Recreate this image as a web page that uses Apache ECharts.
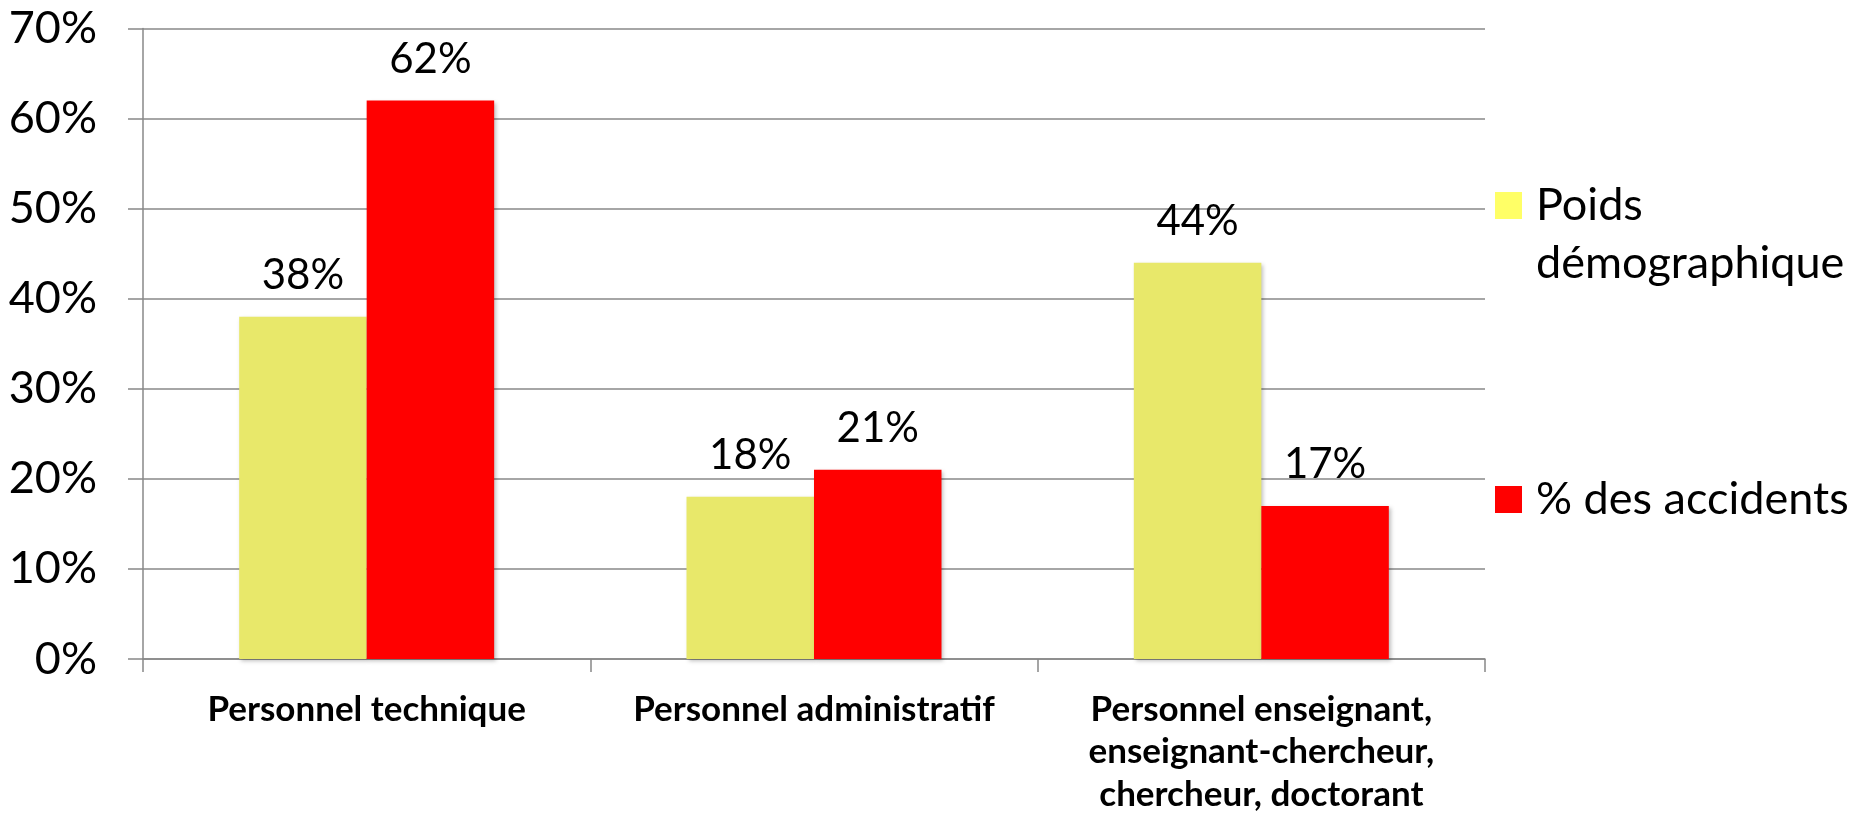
<!DOCTYPE html>
<html>
<head>
<meta charset="utf-8">
<script src="https://cdn.jsdelivr.net/npm/echarts@6/dist/echarts.min.js"></script>
<style>
  html, body { margin: 0; padding: 0; background: #fff; }
  #chart { width: 1861px; height: 817px; }
</style>
</head>
<body>
<div id="chart"></div>
<script>
const categories = [
  'Personnel technique',
  'Personnel administratif',
  'Personnel enseignant,\nenseignant-chercheur,\nchercheur, doctorant'
];
const seriesNames = ['Poids démographique', '% des accidents'];
const poidsDemographique = [38, 18, 44];
const pctAccidents = [62, 21, 17];
const yTicks = { min: 0, max: 70, interval: 10 };

const FONT = 'Lato';
const chart = echarts.init(document.getElementById('chart'));

const barShadow = {
  shadowColor: 'rgba(0,0,0,0.25)',
  shadowBlur: 4,
  shadowOffsetX: 2,
  shadowOffsetY: 2
};

const legendRich = {
  t: { fontFamily: FONT, fontSize: 45, color: '#000', lineHeight: 58, padding: [0, 0, 0, 9] }
};

const option = {
  backgroundColor: '#ffffff',
  animation: false,
  grid: { left: 143, right: 376, top: 28.5, bottom: 158, containLabel: false },
  legend: [
    {
      data: [{ name: seriesNames[0], itemStyle: { color: '#FFFF66' } }],
      left: 1495, top: 118.5,
      orient: 'vertical',
      padding: 0,
      itemWidth: 27, itemHeight: 27,
      icon: 'rect',
      formatter: function () { return '{t|\u00a0}\n{t|Poids}\n{t|démographique}'; },
      textStyle: { fontFamily: FONT, fontSize: 45, color: '#000', lineHeight: 58, rich: legendRich }
    },
    {
      data: [seriesNames[1]],
      left: 1495, top: 470.5,
      orient: 'vertical',
      padding: 0,
      itemWidth: 27, itemHeight: 27,
      icon: 'rect',
      formatter: function (name) { return '{t|' + name + '}'; },
      textStyle: { fontFamily: FONT, fontSize: 45, color: '#000', lineHeight: 58, rich: legendRich }
    }
  ],
  xAxis: {
    type: 'category',
    data: categories,
    axisLine: { show: true, lineStyle: { color: '#888', width: 1.5 } },
    axisTick: { show: true, length: 13, alignWithLabel: false, lineStyle: { color: '#888', width: 1.5 } },
    axisLabel: {
      fontFamily: FONT, fontWeight: 'bold', fontSize: 35, color: '#000',
      lineHeight: 42.5, margin: 29, interval: 0, align: 'center'
    }
  },
  yAxis: {
    type: 'value',
    min: yTicks.min, max: yTicks.max, interval: yTicks.interval,
    axisLine: { show: true, lineStyle: { color: '#888', width: 1.5 } },
    axisTick: { show: true, length: 15, lineStyle: { color: '#888', width: 1.5 } },
    splitLine: { show: true, lineStyle: { color: '#888', width: 1.5 } },
    axisLabel: {
      fontFamily: FONT, fontSize: 45, color: '#000', margin: 46,
      formatter: '{value}%'
    }
  },
  series: [
    {
      name: seriesNames[0],
      type: 'bar',
      data: poidsDemographique,
      barGap: '0%',
      barCategoryGap: '43%',
      itemStyle: Object.assign({ color: '#E8E86A' }, barShadow),
      label: {
        show: true, position: 'top', distance: 20,
        fontFamily: FONT, fontSize: 42, color: '#000',
        formatter: '{c}%'
      }
    },
    {
      name: seriesNames[1],
      type: 'bar',
      data: pctAccidents,
      barGap: '0%',
      barCategoryGap: '43%',
      itemStyle: Object.assign({ color: '#FF0000' }, barShadow),
      label: {
        show: true, position: 'top', distance: 20,
        fontFamily: FONT, fontSize: 42, color: '#000',
        formatter: '{c}%'
      }
    }
  ]
};
chart.setOption(option);
</script>
</body>
</html>
